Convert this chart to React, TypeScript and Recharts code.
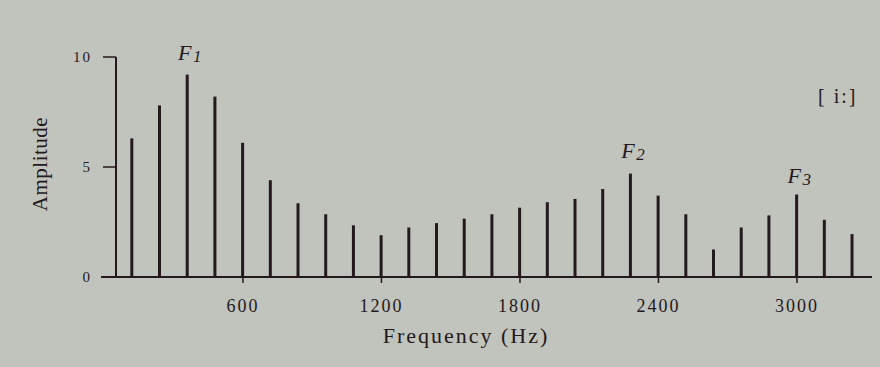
import React from "react";
import { BarChart, Bar, XAxis, YAxis, ReferenceDot, ReferenceLine } from "recharts";

const harmonicsHz = [
  120, 240, 360, 480, 600, 720, 840, 960, 1080, 1200, 1320, 1440, 1560, 1680,
  1800, 1920, 2040, 2160, 2280, 2400, 2520, 2640, 2760, 2880, 3000, 3120, 3240,
];
const amplitudes = [
  6.3, 7.8, 9.2, 8.2, 6.1, 4.4, 3.35, 2.85, 2.35, 1.9, 2.25, 2.45, 2.65, 2.85,
  3.15, 3.4, 3.55, 4.0, 4.7, 3.7, 2.85, 1.25, 2.25, 2.8, 3.75, 2.6, 1.95,
];
const freqTicks = [600, 1200, 1800, 2400, 3000];
const ampTicks = [0, 5, 10];
const formants = [
  { name: "F", sub: "1", hz: 360, amp: 9.2, lift: 15 },
  { name: "F", sub: "2", hz: 2280, amp: 4.7, lift: 16 },
  { name: "F", sub: "3", hz: 3000, amp: 3.75, lift: 12 },
];

const data = harmonicsHz.map((hz, i) => ({ hz, amp: amplitudes[i] }));

const INK = "#24191c";
const SERIF = "'Liberation Serif', 'DejaVu Serif', serif";

function FormantLabel(props: any) {
  const { viewBox, name, sub, lift } = props;
  const cx = viewBox.x + viewBox.width / 2;
  const cy = viewBox.y - lift;
  return (
    <text
      x={cx + 3}
      y={cy}
      textAnchor="middle"
      fill={INK}
      style={{ fontFamily: SERIF, fontStyle: "italic", fontSize: 22, letterSpacing: 1.5 }}
    >
      <tspan>{name}</tspan>
      <tspan fontSize={17} dy={2}>{sub}</tspan>
    </text>
  );
}

export default function App() {
  return (
    <div
      style={{
        position: "absolute",
        left: 0,
        top: 0,
        width: 880,
        height: 367,
        background: "#c1c3bd",
        overflow: "hidden",
      }}
    >
      <BarChart
        width={880}
        height={367}
        data={data}
        margin={{ top: 57, right: 8, bottom: 0, left: 0 }}
      >
        <XAxis
          dataKey="hz"
          type="number"
          domain={[50, 3325]}
          ticks={freqTicks}
          height={90}
          tickSize={6}
          tickMargin={16}
          axisLine={{ stroke: INK, strokeWidth: 2 }}
          tickLine={{ stroke: INK, strokeWidth: 1.5 }}
          tick={{ fill: INK, fontSize: 18, fontFamily: SERIF, letterSpacing: 2 }}
          label={{
            value: "Frequency (Hz)",
            position: "insideBottom",
            offset: 24,
            dx: -28,
            fill: INK,
            fontSize: 22,
            fontFamily: SERIF,
            letterSpacing: 2,
          }}
        />
        <YAxis
          type="number"
          domain={[0, 10]}
          ticks={ampTicks}
          width={116}
          tickSize={13}
          tickMargin={11}
          axisLine={{ stroke: INK, strokeWidth: 2 }}
          tickLine={{ stroke: INK, strokeWidth: 1.5 }}
          tick={{ fill: INK, fontSize: 15, fontFamily: SERIF, letterSpacing: 2 }}
          label={{
            value: "Amplitude",
            angle: -90,
            position: "insideLeft",
            offset: 40,
            dy: -3,
            fill: INK,
            fontSize: 21,
            fontFamily: SERIF,
            letterSpacing: 0.5,
            style: { textAnchor: "middle" },
          }}
        />
        <ReferenceLine
          segment={[
            { x: -15, y: 0 },
            { x: 50, y: 0 },
          ]}
          ifOverflow="visible"
          stroke={INK}
          strokeWidth={2}
        />
        <Bar dataKey="amp" fill={INK} barSize={3} isAnimationActive={false} />
        {formants.map((f) => (
          <ReferenceDot
            key={f.sub}
            x={f.hz}
            y={f.amp}
            r={0}
            stroke="none"
            fill="none"
            label={<FormantLabel name={f.name} sub={f.sub} lift={f.lift} />}
          />
        ))}
      </BarChart>
      <div
        style={{
          position: "absolute",
          left: 818,
          top: 85,
          fontFamily: SERIF,
          fontSize: 20,
          letterSpacing: 2,
          color: INK,
        }}
      >
        [ i:]
      </div>
    </div>
  );
}
